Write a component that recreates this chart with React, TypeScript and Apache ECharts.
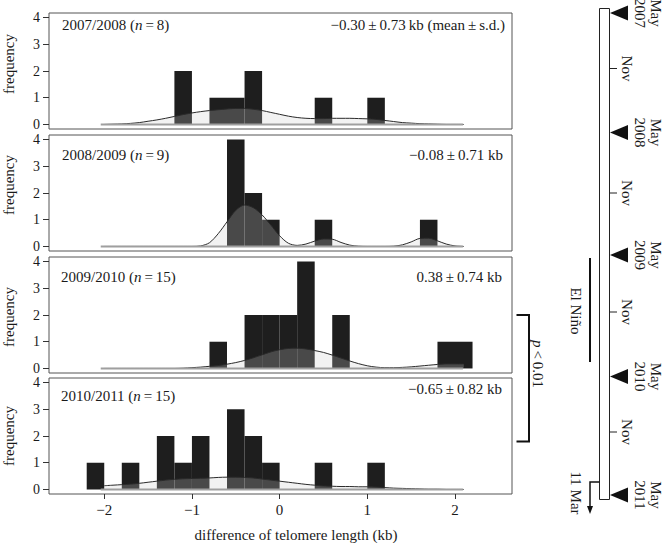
import React, { useEffect, useRef } from 'react';
import * as echarts from 'echarts';

const seasons = ['2007/2008', '2008/2009', '2009/2010', '2010/2011'];
const sampleSizes = [8, 9, 15, 15];
const statTexts = [
  '\u22120.30\u2009\u00b1\u20090.73\u2009kb (mean\u2009\u00b1\u2009s.d.)',
  '\u22120.08\u2009\u00b1\u20090.71 kb',
  '0.38\u2009\u00b1\u20090.74 kb',
  '\u22120.65\u2009\u00b1\u20090.82 kb',
];

const binWidth = 0.2;
const binLeft1 = [-1.2, -0.8, -0.6, -0.4, 0.4, 1.0];
const counts1 = [2, 1, 1, 2, 1, 1];
const binLeft2 = [-0.6, -0.4, -0.2, 0.4, 1.6];
const counts2 = [4, 2, 1, 1, 1];
const binLeft3 = [-0.8, -0.4, -0.2, 0.0, 0.2, 0.6, 1.8, 2.0];
const counts3 = [1, 2, 2, 2, 4, 2, 1, 1];
const binLeft4 = [-2.2, -1.8, -1.4, -1.2, -1.0, -0.6, -0.4, -0.2, 0.4, 1.0];
const counts4 = [1, 1, 2, 1, 2, 3, 2, 1, 1, 1];

const densityX = [
  -2.0, -1.9, -1.8, -1.7, -1.6, -1.5, -1.4, -1.3, -1.2, -1.1,
  -1.0, -0.9, -0.8, -0.7, -0.6, -0.5, -0.4, -0.3, -0.2, -0.1,
  0.0, 0.1, 0.2, 0.3, 0.4, 0.5, 0.6, 0.7, 0.8, 0.9,
  1.0, 1.1, 1.2, 1.3, 1.4, 1.5, 1.6, 1.7, 1.8, 1.9,
  2.0, 2.1,
];
const density1 = [
  0.0, 0.01, 0.02, 0.04, 0.07, 0.12, 0.17, 0.23, 0.3, 0.37,
  0.43, 0.48, 0.52, 0.55, 0.58, 0.6, 0.6, 0.57, 0.52, 0.45,
  0.38, 0.31, 0.26, 0.23, 0.22, 0.22, 0.23, 0.23, 0.23, 0.22,
  0.21, 0.19, 0.15, 0.11, 0.07, 0.05, 0.03, 0.02, 0.01, 0.0,
  0.0, 0.0,
];
const density2 = [
  0, 0, 0, 0, 0, 0, 0, 0, 0, 0,
  0.0, 0.02, 0.14, 0.48, 0.92, 1.35, 1.55, 1.45, 1.18, 0.8,
  0.4, 0.12, 0.04, 0.09, 0.2, 0.28, 0.27, 0.15, 0.05, 0.01,
  0, 0, 0, 0.01, 0.06, 0.17, 0.3, 0.31, 0.21, 0.09,
  0.02, 0.0,
];
const density3 = [
  0, 0, 0, 0, 0, 0, 0, 0, 0, 0.01,
  0.03, 0.05, 0.08, 0.11, 0.16, 0.22, 0.3, 0.4, 0.51, 0.62,
  0.7, 0.75, 0.76, 0.73, 0.67, 0.6, 0.5, 0.39, 0.28, 0.18,
  0.1, 0.05, 0.03, 0.03, 0.04, 0.06, 0.09, 0.12, 0.15, 0.17,
  0.17, 0.17,
];
const density4 = [
  0.14, 0.16, 0.18, 0.2, 0.23, 0.27, 0.31, 0.35, 0.38, 0.4,
  0.41, 0.42, 0.43, 0.45, 0.46, 0.46, 0.45, 0.43, 0.39, 0.35,
  0.31, 0.27, 0.23, 0.19, 0.16, 0.13, 0.12, 0.11, 0.11, 0.1,
  0.1, 0.09, 0.07, 0.05, 0.04, 0.03, 0.02, 0.01, 0.01, 0.0,
  0.0, 0.0,
];
const baselineRange = [-2.04, 2.09];

const xTicks = [-2, -1, 0, 1, 2];
const yTicks = [0, 1, 2, 3, 4];

const timelineMay = ['May\n2007', 'May\n2008', 'May\n2009', 'May\n2010', 'May\n2011'];
const timelineNov = ['Nov', 'Nov', 'Nov', 'Nov'];

const binsList = [binLeft1, binLeft2, binLeft3, binLeft4];
const countsList = [counts1, counts2, counts3, counts4];
const densityList = [density1, density2, density3, density4];

const FONT = 'Liberation Serif';
const TEXT = '#1a1a1a';

const fmt = (v: number) => (v < 0 ? '\u2212' + Math.abs(v) : String(v));

export default function App() {
  const ref = useRef<HTMLDivElement>(null);
  useEffect(() => {
    if (!ref.current) return;
    const chart = echarts.init(ref.current, undefined, { renderer: 'svg' });

    const gridTops = [13, 135, 257, 378];
    const gridH = 116;
    const gridL = 49;
    const gridW = 463;

    const grids = gridTops.map((t) => ({
      left: gridL,
      top: t,
      width: gridW,
      height: gridH,
      show: true,
      borderColor: '#555',
      borderWidth: 1,
      backgroundColor: 'transparent',
    }));

    const xAxes = gridTops.map((_, i) => ({
      type: 'value',
      gridIndex: i,
      position: 'bottom',
      min: -2.63,
      max: 2.65,
      axisLine: { show: false, onZero: false },
      splitLine: { show: false },
      axisTick: {
        show: i === 3,
        length: 5,
        customValues: xTicks,
        lineStyle: { color: '#333' },
      },
      axisLabel: {
        show: i === 3,
        customValues: xTicks,
        formatter: fmt,
        fontFamily: FONT,
        fontSize: 15,
        color: TEXT,
        margin: 8,
      },
    }));

    const yAxes = gridTops.map((_, i) => ({
      type: 'value',
      gridIndex: i,
      position: 'left',
      min: -0.17,
      max: 4.17,
      axisLine: { show: false, onZero: false },
      splitLine: { show: false },
      axisTick: {
        show: true,
        length: 6,
        customValues: yTicks,
        lineStyle: { color: '#333' },
      },
      axisLabel: {
        customValues: yTicks,
        formatter: fmt,
        fontFamily: FONT,
        fontSize: 14,
        lineHeight: 13,
        color: TEXT,
        margin: 9,
      },
    }));

    const series: any[] = [];
    for (let i = 0; i < 4; i++) {
      series.push({
        type: 'custom',
        xAxisIndex: i,
        yAxisIndex: i,
        z: 2,
        silent: true,
        data: binsList[i].map((b, j) => [b, b + binWidth, countsList[i][j]]),
        encode: { x: [0, 1], y: 2 },
        renderItem: (params: any, api: any) => {
          const p0 = api.coord([api.value(0), api.value(2)]);
          const p1 = api.coord([api.value(1), 0]);
          return {
            type: 'rect',
            shape: { x: p0[0], y: p0[1], width: p1[0] - p0[0], height: p1[1] - p0[1] },
            style: { fill: '#1e1e1e' },
          };
        },
      });
      series.push({
        type: 'line',
        xAxisIndex: i,
        yAxisIndex: i,
        z: 3,
        silent: true,
        smooth: 0.3,
        symbol: 'none',
        data: densityX.map((x, j) => [x, densityList[i][j]]),
        lineStyle: { color: '#2a2a2a', width: 1 },
        areaStyle: { color: 'rgb(204,204,204)', opacity: 0.25 },
      });
      series.push({
        type: 'line',
        xAxisIndex: i,
        yAxisIndex: i,
        z: 4,
        silent: true,
        symbol: 'none',
        data: [
          [baselineRange[0], 0],
          [baselineRange[1], 0],
        ],
        lineStyle: { color: '#9f9f9f', width: 2 },
      });
    }

    const graphic: any[] = [];
    const titleY = [25, 155, 277, 396];
    const statY = [25, 155, 277, 389];
    const titleX = [62, 62, 61, 61];
    const statX = [505, 503, 502, 502];
    const freqY = [64, 185, 317, 436];
    for (let i = 0; i < 4; i++) {
      graphic.push({
        type: 'text',
        x: titleX[i],
        y: titleY[i],
        style: {
          text: `${seasons[i]} ({i|n}\u2009=\u2009${sampleSizes[i]})`,
          rich: { i: { fontStyle: 'italic', fontFamily: FONT, fontSize: 15, fill: TEXT } },
          fontFamily: FONT,
          fontSize: 15,
          fill: TEXT,
          align: 'left',
          verticalAlign: 'middle',
        },
      });
      graphic.push({
        type: 'text',
        x: statX[i],
        y: statY[i],
        style: {
          text: statTexts[i],
          fontFamily: FONT,
          fontSize: 15,
          fill: TEXT,
          align: 'right',
          verticalAlign: 'middle',
        },
      });
      graphic.push({
        type: 'text',
        x: 9,
        y: freqY[i],
        rotation: Math.PI / 2,
        style: {
          text: 'frequency',
          fontFamily: FONT,
          fontSize: 15,
          fill: TEXT,
          align: 'center',
          verticalAlign: 'middle',
        },
      });
    }
    graphic.push({
      type: 'text',
      x: 296,
      y: 535,
      style: {
        text: 'difference of telomere length (kb)',
        fontFamily: FONT,
        fontSize: 15,
        fill: TEXT,
        align: 'center',
        verticalAlign: 'middle',
      },
    });

    // timeline
    const mayY = [13, 132.5, 255, 376.5, 495];
    const novY = [68.5, 193, 312, 432];
    graphic.push({
      type: 'rect',
      shape: { x: 599.5, y: 8.5, width: 10, height: 491 },
      style: { fill: '#fff', stroke: '#222', lineWidth: 1 },
    });
    mayY.forEach((y, k) => {
      graphic.push({
        type: 'polygon',
        shape: { points: [[610, y], [628, y - 7.5], [628, y + 7.5]] },
        style: { fill: '#111' },
      });
      graphic.push({
        type: 'text',
        x: 648,
        y,
        rotation: -Math.PI / 2,
        style: {
          text: timelineMay[k],
          fontFamily: FONT,
          fontSize: 15,
          lineHeight: 16,
          fill: TEXT,
          align: 'center',
          verticalAlign: 'middle',
        },
      });
    });
    novY.forEach((y, k) => {
      graphic.push({
        type: 'line',
        shape: { x1: 609.5, y1: y, x2: 617, y2: y },
        style: { stroke: '#222', lineWidth: 1 },
      });
      graphic.push({
        type: 'text',
        x: 627,
        y,
        rotation: -Math.PI / 2,
        style: {
          text: timelineNov[k],
          fontFamily: FONT,
          fontSize: 15,
          fill: TEXT,
          align: 'center',
          verticalAlign: 'middle',
        },
      });
    });
    // El Nino
    graphic.push({
      type: 'line',
      shape: { x1: 590, y1: 258, x2: 590, y2: 362 },
      style: { stroke: '#111', lineWidth: 2 },
    });
    graphic.push({
      type: 'text',
      x: 576,
      y: 311,
      rotation: -Math.PI / 2,
      style: {
        text: 'El Ni\u00f1o',
        fontFamily: FONT,
        fontSize: 15,
        fill: TEXT,
        align: 'center',
        verticalAlign: 'middle',
      },
    });
    // 11 Mar arrow
    graphic.push({
      type: 'polyline',
      shape: { points: [[599.5, 482], [590, 482], [590, 507]] },
      style: { stroke: '#111', lineWidth: 1.5, fill: null },
    });
    graphic.push({
      type: 'polygon',
      shape: { points: [[587, 506], [593, 506], [590, 514]] },
      style: { fill: '#111' },
    });
    graphic.push({
      type: 'text',
      x: 576,
      y: 493,
      rotation: -Math.PI / 2,
      style: {
        text: '11 Mar',
        fontFamily: FONT,
        fontSize: 15,
        fill: TEXT,
        align: 'center',
        verticalAlign: 'middle',
      },
    });
    // p < 0.01 bracket
    graphic.push({
      type: 'polyline',
      shape: { points: [[516.5, 315], [529, 315], [529, 441.5], [516.5, 441.5]] },
      style: { stroke: '#111', lineWidth: 2, fill: null },
    });
    graphic.push({
      type: 'text',
      x: 538,
      y: 364,
      rotation: -Math.PI / 2,
      style: {
        text: '{i|p}\u2009<\u20090.01',
        rich: { i: { fontStyle: 'italic', fontFamily: FONT, fontSize: 15, fill: TEXT } },
        fontFamily: FONT,
        fontSize: 15,
        fill: TEXT,
        align: 'center',
        verticalAlign: 'middle',
      },
    });

    chart.setOption({
      animation: false,
      backgroundColor: '#fff',
      grid: grids,
      xAxis: xAxes,
      yAxis: yAxes,
      series,
      graphic,
    });
    return () => chart.dispose();
  }, []);

  return (
    <div
      ref={ref}
      style={{ position: 'fixed', left: 0, top: 0, width: 666, height: 543, background: '#fff' }}
    />
  );
}
